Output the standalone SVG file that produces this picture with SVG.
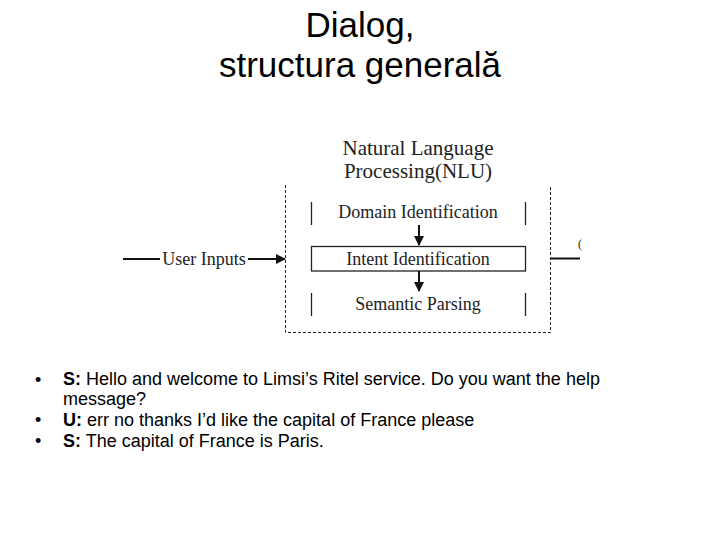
<svg xmlns="http://www.w3.org/2000/svg" width="720" height="540" viewBox="0 0 720 540">
<defs>
<style>
.title{font-family:"Liberation Sans",Arial,sans-serif;font-size:35px;fill:#000;text-anchor:middle}
.serif{font-family:"Liberation Serif","Times New Roman",serif;fill:#222}
.lbl{font-size:18px;text-anchor:middle}
.hd{font-size:21px;text-anchor:middle}
.bul{font-family:"Liberation Sans",Arial,sans-serif;font-size:18px;fill:#000}
.line{stroke:#111;stroke-width:2;fill:none}
.thin{stroke:#222;stroke-width:1.3;fill:none}
.dash{stroke:#222;stroke-width:1;fill:none;stroke-dasharray:3,2}
</style>
<marker id="ah" markerWidth="10" markerHeight="10" refX="9" refY="5" orient="auto" markerUnits="userSpaceOnUse">
<path d="M0,0 L10,5 L0,10 Z" fill="#111"/>
</marker>
</defs>
<rect width="720" height="540" fill="#fff"/>
<g id="title">
<text class="title" x="360" y="37">Dialog,</text>
<text class="title" x="360" y="77">structura generală</text>
</g>
<g id="nlu">
<text class="serif hd" x="418" y="155">Natural Language</text>
<text class="serif hd" x="418" y="178">Processing(NLU)</text>
<path class="dash" d="M285.5,185 V332.5 H550.5 V185"/>
</g>
<g id="domain">
<path class="thin" d="M311.5,202 V225 M525.5,202 V225"/>
<text class="serif lbl" x="418" y="218">Domain Identification</text>
</g>
<g id="intent">
<rect class="thin" x="311.5" y="246.5" width="214" height="24.5"/>
<text class="serif lbl" x="418" y="265">Intent Identification</text>
</g>
<g id="semantic">
<path class="thin" d="M311.5,293 V316 M525.5,293 V316"/>
<text class="serif lbl" x="418" y="310">Semantic Parsing</text>
</g>
<g id="input">
<text class="serif lbl" x="204" y="265">User Inputs</text>
</g>
<g id="output">
<text class="serif" x="578" y="248" font-size="12">(</text>
</g>
<g id="connectors">
<line class="line" x1="123" y1="259" x2="160" y2="259"/>
<line class="line" x1="248" y1="259" x2="285" y2="259" marker-end="url(#ah)"/>
<line class="line" x1="419" y1="225" x2="419" y2="245" marker-end="url(#ah)"/>
<line class="line" x1="419" y1="271" x2="419" y2="291" marker-end="url(#ah)"/>
<line class="line" x1="551" y1="258.5" x2="580" y2="258.5"/>
</g>
<g id="dialog">
<text class="bul" x="35" y="386">•</text>
<text class="bul" x="63" y="385"><tspan font-weight="bold">S:</tspan> Hello and welcome to Limsi’s Ritel service. Do you want the help</text>
<text class="bul" x="63" y="405">message?</text>
<text class="bul" x="35" y="426">•</text>
<text class="bul" x="63" y="426"><tspan font-weight="bold">U:</tspan> err no thanks I’d like the capital of France please</text>
<text class="bul" x="35" y="447">•</text>
<text class="bul" x="63" y="447"><tspan font-weight="bold">S:</tspan> The capital of France is Paris.</text>
</g>
</svg>
